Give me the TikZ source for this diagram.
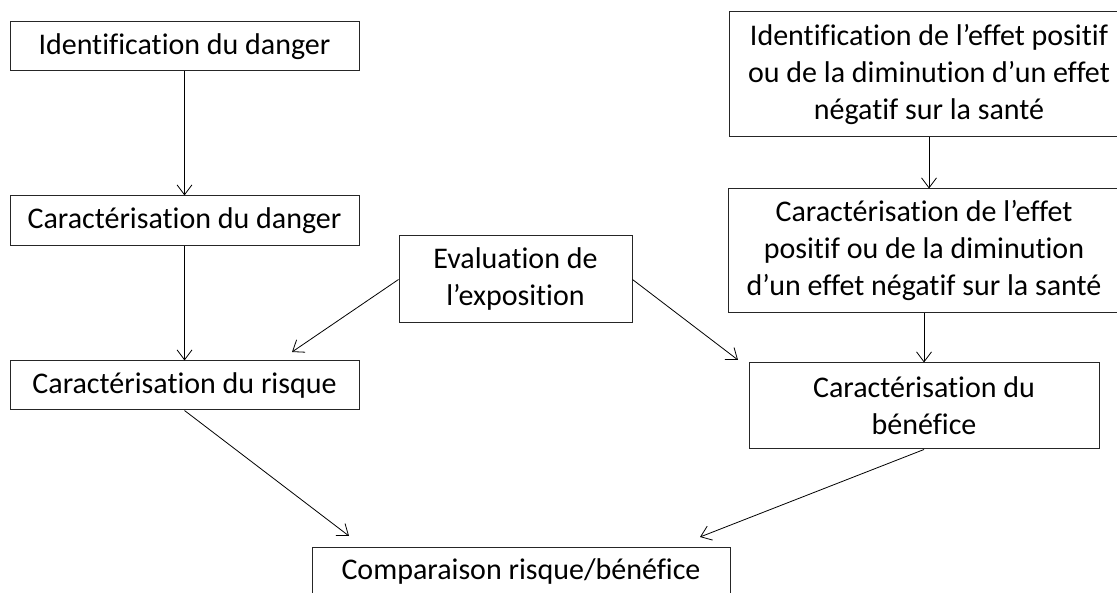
\documentclass[tikz,border=0pt]{standalone}
\usepackage{fontspec}
\setmainfont{Carlito}[Ligatures={NoCommon}]
\usetikzlibrary{arrows.meta}
\begin{document}
\begin{tikzpicture}[x=1pt,y=-1pt,
  box/.style={draw=black!85,line width=1pt,inner sep=0pt,align=center,
    font=\fontsize{30}{37}\selectfont,text=black},
  conn/.style={line width=0.8pt,-{Straight Barb[length=10pt,width=15pt,line width=0.8pt]}}]
\useasboundingbox (0,0) rectangle (1117,593);
\clip (0,0) rectangle (1117,593);
\node[box,minimum width=349pt,minimum height=49pt] (n1) at (184.5,46.5) {Identification du danger};
\node[box,minimum width=349pt,minimum height=50pt] (n2) at (184.5,221) {Caractérisation du danger};
\node[box,minimum width=349pt,minimum height=49pt] (n3) at (184.5,385.5) {Caractérisation du risque};
\node[box,minimum width=233pt,minimum height=87pt] (n4) at (515.5,279.5) {Evaluation de\\l’exposition};
\node[box,minimum width=400pt,minimum height=125pt] (n5) at (929,74.5) {Identification de l’effet positif\\ou de la diminution d’un effet\\négatif sur la santé};
\node[box,minimum width=392pt,minimum height=124pt] (n6) at (924,251) {Caractérisation de l’effet\\positif ou de la diminution\\d’un effet négatif sur la santé};
\node[box,minimum width=350pt,minimum height=86pt] (n7) at (924,406) {Caractérisation du\\bénéfice};
\node[box,minimum width=418pt,minimum height=50pt] (n8) at (521,572) {Comparaison risque/bénéfice};
\coordinate (t1) at (292,352);
\coordinate (t2) at (738,360);
\coordinate (t3) at (349,536);
\coordinate (t4) at (700,537);
\draw[conn] (n1.south) -- (n2.north);
\draw[conn] (n2.south) -- (n3.north);
\draw[conn] (n4.west) -- (t1);
\draw[conn] (n4.east) -- (t2);
\draw[conn] (n5.south) -- (n5.south |- n6.north);
\draw[conn] (n6.south) -- (n7.north);
\draw[conn] (n3.south) -- (t3);
\draw[conn] (n7.south) -- (t4);
\end{tikzpicture}
\end{document}
